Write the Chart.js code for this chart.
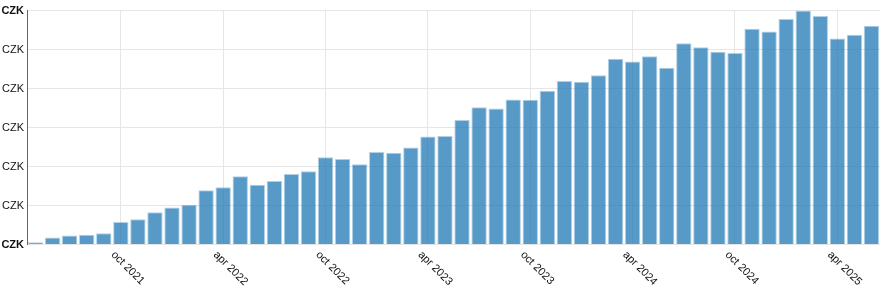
<!DOCTYPE html>
<html>
<head>
<meta charset="utf-8">
<script src="https://cdn.jsdelivr.net/npm/chart.js@4/dist/chart.umd.min.js"></script>
<style>
  html, body { margin: 0; padding: 0; background: #fff; }
</style>
</head>
<body>
<canvas id="chart" width="880" height="290"></canvas>
<script>
// monthly amounts, may 2021 .. jun 2025
const months = [
  'may 2021', 'jun 2021', 'jul 2021', 'aug 2021', 'sep 2021', 'oct 2021', 'nov 2021', 'dec 2021',
  'jan 2022', 'feb 2022', 'mar 2022', 'apr 2022', 'may 2022', 'jun 2022', 'jul 2022', 'aug 2022',
  'sep 2022', 'oct 2022', 'nov 2022', 'dec 2022', 'jan 2023', 'feb 2023', 'mar 2023', 'apr 2023',
  'may 2023', 'jun 2023', 'jul 2023', 'aug 2023', 'sep 2023', 'oct 2023', 'nov 2023', 'dec 2023',
  'jan 2024', 'feb 2024', 'mar 2024', 'apr 2024', 'may 2024', 'jun 2024', 'jul 2024', 'aug 2024',
  'sep 2024', 'oct 2024', 'nov 2024', 'dec 2024', 'jan 2025', 'feb 2025', 'mar 2025', 'apr 2025',
  'may 2025', 'jun 2025'
];
const amounts = [
  560, 1800, 2300, 2500, 2900, 5800, 6500, 8300,
  9500, 10200, 13900, 14700, 17500, 15300, 16300, 18100,
  18800, 22400, 21900, 20600, 23700, 23500, 24900, 27700,
  27800, 31900, 35200, 34900, 37200, 37100, 39400, 41900,
  41700, 43400, 47600, 46900, 48300, 45300, 51600, 50600,
  49400, 49100, 55300, 54600, 57800, 60000, 58600, 52800,
  53800, 56100
];
const xTickLabels = ['oct 2021', 'apr 2022', 'oct 2022', 'apr 2023', 'oct 2023', 'apr 2024', 'oct 2024', 'apr 2025'];
const yTicks = [0, 10000, 20000, 30000, 40000, 50000, 60000];
const yTickLabel = 'CZK';

const FONT = "'Liberation Sans', Arial, sans-serif";
const gridColor = '#e6e6e6';

// rotated month labels hanging below the axis
const rotatedLabels = {
  id: 'rotatedLabels',
  afterDraw(chart) {
    const x = chart.scales.x;
    const ctx = chart.ctx;
    ctx.save();
    ctx.font = '11px ' + FONT;
    ctx.fillStyle = '#111';
    ctx.textAlign = 'left';
    ctx.textBaseline = 'middle';
    xTickLabels.forEach(lbl => {
      const px = x.getPixelForValue(months.indexOf(lbl));
      ctx.save();
      ctx.translate(px - 8, 253);
      ctx.rotate(Math.PI / 4);
      ctx.fillText(lbl, 0, 0);
      ctx.restore();
    });
    ctx.restore();
  }
};

new Chart(document.getElementById('chart'), {
  type: 'bar',
  data: {
    labels: months,
    datasets: [{
      data: amounts,
      backgroundColor: 'rgba(31, 119, 180, 0.75)',
      borderColor: 'rgba(31, 119, 180, 0.35)',
      borderWidth: 1,
      barPercentage: 0.9,
      categoryPercentage: 1.0
    }]
  },
  options: {
    responsive: false,
    animation: false,
    layout: { padding: { top: 10.5, right: 0, bottom: 0, left: 0 } },
    plugins: { legend: { display: false }, tooltip: { enabled: false } },
    scales: {
      x: {
        offset: true,
        border: { display: false },
        grid: {
          offset: false,
          drawTicks: false,
          color: c => xTickLabels.includes(months[c.index]) ? gridColor : 'rgba(0,0,0,0)'
        },
        ticks: { display: false },
        afterFit: s => { s.height = 45.5; }
      },
      y: {
        min: 0,
        max: 60000,
        afterBuildTicks: s => { s.ticks = yTicks.map(v => ({ value: v })); },
        border: { display: true, color: '#666', width: 1 },
        grid: { color: gridColor, drawTicks: false },
        ticks: {
          padding: 3,
          color: '#111',
          font: c => ({
            family: FONT,
            size: 11,
            weight: (c.index === 0 || c.index === yTicks.length - 1) ? 'bold' : 'normal'
          }),
          callback: () => yTickLabel
        },
        afterFit: s => { s.width = 27; }
      }
    }
  },
  plugins: [rotatedLabels]
});
</script>
</body>
</html>
